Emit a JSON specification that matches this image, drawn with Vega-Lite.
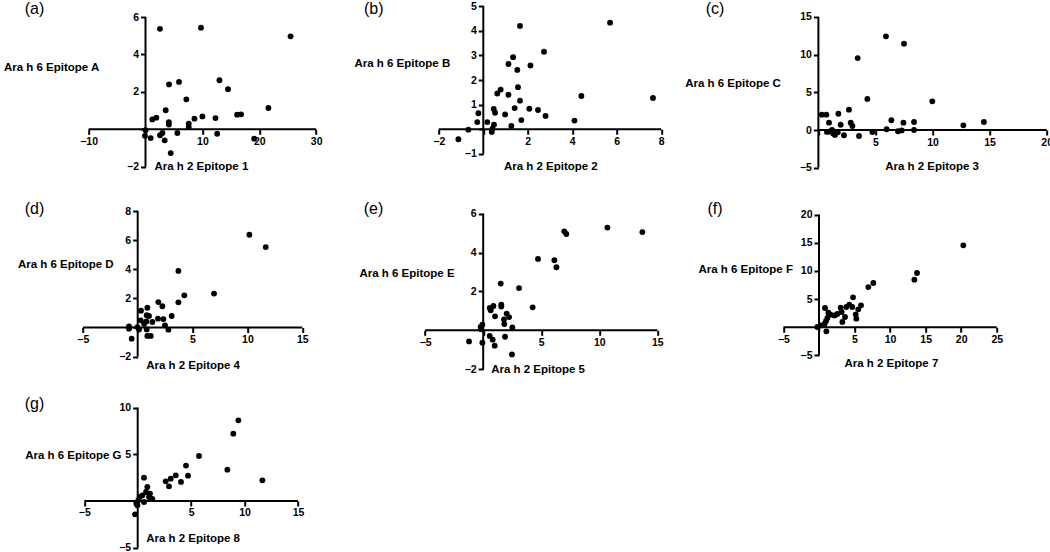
{
  "$schema": "https://vega.github.io/schema/vega-lite/v6.json",
  "padding": {"left": 2.7, "top": 0, "right": 0, "bottom": 0},
  "datasets": {
    "pts": [
      {"panel":"a","x":2.54,"y":5.37},{"panel":"a","x":9.75,"y":5.43},{"panel":"a","x":25.5,"y":4.97},{"panel":"a","x":4.14,"y":2.40},{"panel":"a","x":5.89,"y":2.53},{"panel":"a","x":13.0,"y":2.62},{"panel":"a","x":14.5,"y":2.14},{"panel":"a","x":7.18,"y":1.60},{"panel":"a","x":21.6,"y":1.14},{"panel":"a","x":3.55,"y":1.02},{"panel":"a","x":16.1,"y":0.78},{"panel":"a","x":16.8,"y":0.80},{"panel":"a","x":10.0,"y":0.69},{"panel":"a","x":12.3,"y":0.60},{"panel":"a","x":1.9,"y":0.62},{"panel":"a","x":1.2,"y":0.53},{"panel":"a","x":8.6,"y":0.57},{"panel":"a","x":4.1,"y":0.38},{"panel":"a","x":4.1,"y":0.25},{"panel":"a","x":7.6,"y":0.30},{"panel":"a","x":7.6,"y":0.12},{"panel":"a","x":0.0,"y":-0.05},{"panel":"a","x":-0.1,"y":-0.35},{"panel":"a","x":0.9,"y":-0.47},{"panel":"a","x":2.55,"y":-0.32},{"panel":"a","x":2.97,"y":-0.2},{"panel":"a","x":3.37,"y":-0.59},{"panel":"a","x":5.6,"y":-0.2},{"panel":"a","x":12.6,"y":-0.24},{"panel":"a","x":19.1,"y":-0.5},{"panel":"a","x":4.43,"y":-1.27},
      {"panel":"b","x":1.65,"y":4.2},{"panel":"b","x":5.70,"y":4.33},{"panel":"b","x":2.73,"y":3.15},{"panel":"b","x":1.34,"y":2.93},{"panel":"b","x":1.13,"y":2.65},{"panel":"b","x":2.12,"y":2.59},{"panel":"b","x":1.53,"y":2.41},{"panel":"b","x":1.56,"y":1.71},{"panel":"b","x":0.78,"y":1.61},{"panel":"b","x":0.63,"y":1.45},{"panel":"b","x":1.13,"y":1.40},{"panel":"b","x":1.65,"y":1.16},{"panel":"b","x":4.41,"y":1.35},{"panel":"b","x":7.63,"y":1.27},{"panel":"b","x":0.47,"y":0.82},{"panel":"b","x":0.53,"y":0.67},{"panel":"b","x":-0.22,"y":0.65},{"panel":"b","x":0.98,"y":0.60},{"panel":"b","x":1.41,"y":0.86},{"panel":"b","x":2.07,"y":0.83},{"panel":"b","x":2.46,"y":0.78},{"panel":"b","x":2.80,"y":0.54},{"panel":"b","x":1.71,"y":0.37},{"panel":"b","x":4.10,"y":0.35},{"panel":"b","x":-0.27,"y":0.29},{"panel":"b","x":0.18,"y":0.29},{"panel":"b","x":0.48,"y":0.18},{"panel":"b","x":1.26,"y":0.13},{"panel":"b","x":0.41,"y":0.02},{"panel":"b","x":0.38,"y":-0.11},{"panel":"b","x":-0.67,"y":-0.02},{"panel":"b","x":-1.12,"y":-0.41},
      {"panel":"c","x":5.92,"y":12.43},{"panel":"c","x":7.50,"y":11.46},{"panel":"c","x":3.44,"y":9.55},{"panel":"c","x":4.29,"y":4.12},{"panel":"c","x":9.98,"y":3.81},{"panel":"c","x":2.68,"y":2.70},{"panel":"c","x":0.3,"y":2.03},{"panel":"c","x":0.7,"y":2.03},{"panel":"c","x":1.75,"y":2.16},{"panel":"c","x":0.93,"y":0.97},{"panel":"c","x":1.95,"y":0.7},{"panel":"c","x":2.83,"y":0.97},{"panel":"c","x":2.98,"y":0.53},{"panel":"c","x":1.0,"y":-0.2},{"panel":"c","x":1.3,"y":-0.45},{"panel":"c","x":1.45,"y":-0.65},{"panel":"c","x":1.7,"y":-0.3},{"panel":"c","x":0.75,"y":-0.25},{"panel":"c","x":1.2,"y":0.0},{"panel":"c","x":2.24,"y":-0.7},{"panel":"c","x":3.56,"y":-0.8},{"panel":"c","x":4.73,"y":-0.27},{"panel":"c","x":5.98,"y":0.1},{"panel":"c","x":6.39,"y":1.29},{"panel":"c","x":6.97,"y":-0.17},{"panel":"c","x":7.3,"y":-0.05},{"panel":"c","x":7.45,"y":0.97},{"panel":"c","x":8.38,"y":1.06},{"panel":"c","x":8.38,"y":0.0},{"panel":"c","x":12.7,"y":0.62},{"panel":"c","x":14.5,"y":1.06},
      {"panel":"d","x":10.18,"y":6.38},{"panel":"d","x":11.67,"y":5.53},{"panel":"d","x":3.71,"y":3.89},{"panel":"d","x":6.96,"y":2.33},{"panel":"d","x":4.25,"y":2.21},{"panel":"d","x":3.71,"y":1.73},{"panel":"d","x":1.88,"y":1.75},{"panel":"d","x":2.25,"y":1.46},{"panel":"d","x":0.88,"y":1.36},{"panel":"d","x":0.30,"y":1.16},{"panel":"d","x":0.82,"y":0.84},{"panel":"d","x":1.03,"y":0.79},{"panel":"d","x":3.10,"y":0.79},{"panel":"d","x":1.85,"y":0.61},{"panel":"d","x":2.34,"y":0.58},{"panel":"d","x":0.27,"y":0.49},{"panel":"d","x":0.79,"y":0.42},{"panel":"d","x":1.34,"y":0.38},{"panel":"d","x":-0.79,"y":0.08},{"panel":"d","x":-0.79,"y":-0.08},{"panel":"d","x":-0.03,"y":0.03},{"panel":"d","x":0.12,"y":-0.13},{"panel":"d","x":0.82,"y":-0.13},{"panel":"d","x":2.49,"y":0.15},{"panel":"d","x":2.80,"y":-0.15},{"panel":"d","x":0.88,"y":-0.58},{"panel":"d","x":1.19,"y":-0.58},{"panel":"d","x":-0.55,"y":-0.77},{"panel":"d","x":0.58,"y":0.26},
      {"panel":"e","x":10.70,"y":5.28},{"panel":"e","x":13.71,"y":5.05},{"panel":"e","x":6.99,"y":5.09},{"panel":"e","x":7.16,"y":4.95},{"panel":"e","x":4.72,"y":3.67},{"panel":"e","x":6.13,"y":3.60},{"panel":"e","x":6.31,"y":3.24},{"panel":"e","x":1.51,"y":2.40},{"panel":"e","x":3.09,"y":2.17},{"panel":"e","x":4.26,"y":1.18},{"panel":"e","x":1.56,"y":1.32},{"panel":"e","x":1.56,"y":1.22},{"panel":"e","x":0.88,"y":1.25},{"panel":"e","x":0.56,"y":1.15},{"panel":"e","x":0.65,"y":1.03},{"panel":"e","x":1.02,"y":0.72},{"panel":"e","x":2.02,"y":0.86},{"panel":"e","x":2.23,"y":0.68},{"panel":"e","x":1.79,"y":0.56},{"panel":"e","x":1.82,"y":0.32},{"panel":"e","x":2.51,"y":0.15},{"panel":"e","x":-0.07,"y":0.29},{"panel":"e","x":-0.22,"y":0.17},{"panel":"e","x":0.56,"y":-0.29},{"panel":"e","x":0.82,"y":-0.48},{"panel":"e","x":0.99,"y":-0.79},{"panel":"e","x":1.88,"y":-0.33},{"panel":"e","x":-1.22,"y":-0.57},{"panel":"e","x":-0.07,"y":-0.64},{"panel":"e","x":2.48,"y":-1.24},{"panel":"e","x":-0.16,"y":0.05},
      {"panel":"f","x":20.3,"y":14.55},{"panel":"f","x":13.79,"y":9.63},{"panel":"f","x":13.42,"y":8.45},{"panel":"f","x":7.65,"y":7.86},{"panel":"f","x":6.94,"y":7.14},{"panel":"f","x":4.79,"y":5.31},{"panel":"f","x":5.91,"y":3.89},{"panel":"f","x":5.53,"y":3.18},{"panel":"f","x":4.27,"y":4.00},{"panel":"f","x":3.85,"y":3.59},{"panel":"f","x":3.05,"y":3.47},{"panel":"f","x":3.19,"y":2.70},{"panel":"f","x":2.58,"y":2.35},{"panel":"f","x":1.64,"y":2.23},{"panel":"f","x":0.85,"y":3.41},{"panel":"f","x":1.32,"y":2.58},{"panel":"f","x":5.16,"y":2.29},{"panel":"f","x":5.25,"y":1.52},{"panel":"f","x":3.29,"y":0.92},{"panel":"f","x":1.18,"y":1.64},{"panel":"f","x":0.99,"y":1.10},{"panel":"f","x":-0.23,"y":0.04},{"panel":"f","x":0.24,"y":0.33},{"panel":"f","x":0.80,"y":0.63},{"panel":"f","x":1.04,"y":-0.73},{"panel":"f","x":2.2,"y":2.1},{"panel":"f","x":3.66,"y":1.81},{"panel":"f","x":4.69,"y":3.59},
      {"panel":"g","x":9.42,"y":8.64},{"panel":"g","x":8.95,"y":7.21},{"panel":"g","x":5.74,"y":4.82},{"panel":"g","x":4.52,"y":3.79},{"panel":"g","x":8.39,"y":3.36},{"panel":"g","x":3.56,"y":2.75},{"panel":"g","x":4.71,"y":2.71},{"panel":"g","x":3.09,"y":2.39},{"panel":"g","x":2.62,"y":2.11},{"panel":"g","x":4.05,"y":2.04},{"panel":"g","x":2.93,"y":1.57},{"panel":"g","x":11.67,"y":2.21},{"panel":"g","x":0.59,"y":2.50},{"panel":"g","x":0.90,"y":1.50},{"panel":"g","x":0.78,"y":0.96},{"panel":"g","x":1.15,"y":0.79},{"panel":"g","x":0.44,"y":0.61},{"panel":"g","x":0.19,"y":0.43},{"panel":"g","x":1.37,"y":0.21},{"panel":"g","x":0.59,"y":-0.11},{"panel":"g","x":0.06,"y":0.07},{"panel":"g","x":-0.12,"y":-0.29},{"panel":"g","x":-0.03,"y":-0.46},{"panel":"g","x":-0.25,"y":-1.43},{"panel":"g","x":1.06,"y":0.43}
    ]
  },
  "columns": 3,
  "align": "each",
  "bounds": "flush",
  "spacing": {"row": 37, "column": 100},
  "concat": [
    {
      "width": 238, "height": 164,
      "title": {"text": "(a)", "dx": -56, "dy": 16},
      "layer": [
        {"data": {"values": [{}]}, "mark": {"type": "rule", "strokeWidth": 2, "color": "black"}, "encoding": {"x": {"datum": -10}, "x2": {"datum": 30}, "y": {"datum": 0}}},
        {"data": {"values": [{}]}, "mark": {"type": "rule", "strokeWidth": 2, "color": "black"}, "encoding": {"x": {"datum": 0}, "y": {"datum": -2}, "y2": {"datum": 6}}},
        {"data": {"name": "pts"}, "transform": [{"filter": "datum.panel === 'a'"}],
         "mark": {"type": "circle", "size": 34, "color": "black", "opacity": 1},
         "encoding": {
           "x": {"field": "x", "type": "quantitative", "scale": {"domain": [-11.39, 30.44], "nice": false, "zero": false},
                 "axis": {"values": [-10, 0, 10, 20, 30], "format": "d", "tickCount": 50, "labelOverlap": false, "offset": -39.7, "title": "Ara h 2 Epitope 1", "titleX": 73.3, "titleY": 37.4}},
           "y": {"field": "y", "type": "quantitative", "scale": {"domain": [-2.122, 6.643], "nice": false, "zero": false},
                 "axis": {"values": [-2, 0, 2, 4, 6], "format": "d", "tickCount": 50, "labelOverlap": false, "offset": -64.8, "title": "Ara h 6 Epitope A", "titleX": -142.1, "titleY": 62}}
         }}
      ]
    },
    {
      "width": 260, "height": 164,
      "title": {"text": "(b)", "dx": -54.7, "dy": 19.6},
      "layer": [
        {"data": {"values": [{}]}, "mark": {"type": "rule", "strokeWidth": 2, "color": "black"}, "encoding": {"x": {"datum": -2}, "x2": {"datum": 8}, "y": {"datum": 0}}},
        {"data": {"values": [{}]}, "mark": {"type": "rule", "strokeWidth": 2, "color": "black"}, "encoding": {"x": {"datum": 0}, "y": {"datum": -1}, "y2": {"datum": 5}}},
        {"data": {"name": "pts"}, "transform": [{"filter": "datum.panel === 'b'"}],
         "mark": {"type": "circle", "size": 34, "color": "black", "opacity": 1},
         "encoding": {
           "x": {"field": "x", "type": "quantitative", "scale": {"domain": [-2.905, 8.786], "nice": false, "zero": false},
                 "axis": {"values": [-2, 0, 2, 4, 6, 8], "format": "d", "tickCount": 50, "labelOverlap": false, "offset": -39.8, "title": "Ara h 2 Epitope 2", "titleX": 84.7, "titleY": 36.8}},
           "y": {"field": "y", "type": "quantitative", "scale": {"domain": [-1.618, 5.049], "nice": false, "zero": false},
                 "axis": {"values": [-1, 0, 1, 2, 3, 4, 5], "format": "d", "tickCount": 50, "labelOverlap": false, "offset": -64.6, "title": "Ara h 6 Epitope B", "titleX": -129.3, "titleY": 58.7}}
         }}
      ]
    },
    {
      "width": 270, "height": 164,
      "title": {"text": "(c)", "dx": -73, "dy": 15.5},
      "layer": [
        {"data": {"values": [{}]}, "mark": {"type": "rule", "strokeWidth": 2, "color": "black"}, "encoding": {"x": {"datum": 0}, "x2": {"datum": 20}, "y": {"datum": 0}}},
        {"data": {"values": [{}]}, "mark": {"type": "rule", "strokeWidth": 2, "color": "black"}, "encoding": {"x": {"datum": 0}, "y": {"datum": -5}, "y2": {"datum": 15}}},
        {"data": {"name": "pts"}, "transform": [{"filter": "datum.panel === 'c'"}],
         "mark": {"type": "circle", "size": 34, "color": "black", "opacity": 1},
         "encoding": {
           "x": {"field": "x", "type": "quantitative", "scale": {"domain": [-3.478, 20.175], "nice": false, "zero": false},
                 "axis": {"values": [0, 5, 10, 15, 20], "format": "d", "tickCount": 50, "labelOverlap": false, "offset": -39, "title": "Ara h 2 Epitope 3", "titleX": 106, "titleY": 36}},
           "y": {"field": "y", "type": "quantitative", "scale": {"domain": [-5.176, 16.59], "nice": false, "zero": false},
                 "axis": {"values": [-5, 0, 5, 10, 15], "format": "d", "tickCount": 50, "labelOverlap": false, "offset": -39.7, "labelExpr": "datum.label", "title": "Ara h 6 Epitope C", "titleX": -133.7, "titleY": 78}}
         }}
      ]
    },
    {
      "width": 238, "height": 164,
      "title": {"text": "(d)", "dx": -56, "dy": 15},
      "layer": [
        {"data": {"values": [{}]}, "mark": {"type": "rule", "strokeWidth": 2, "color": "black"}, "encoding": {"x": {"datum": -5}, "x2": {"datum": 15}, "y": {"datum": 0}}},
        {"data": {"values": [{}]}, "mark": {"type": "rule", "strokeWidth": 2, "color": "black"}, "encoding": {"x": {"datum": 0}, "y": {"datum": -2}, "y2": {"datum": 8}}},
        {"data": {"name": "pts"}, "transform": [{"filter": "datum.panel === 'd'"}],
         "mark": {"type": "circle", "size": 34, "color": "black", "opacity": 1},
         "encoding": {
           "x": {"field": "x", "type": "quantitative", "scale": {"domain": [-5.196, 16.50], "nice": false, "zero": false},
                 "axis": {"values": [-5, 0, 5, 10, 15], "format": "d", "tickCount": 50, "labelOverlap": false, "offset": -42.5, "title": "Ara h 2 Epitope 4", "titleX": 65, "titleY": 37.8}},
           "y": {"field": "y", "type": "quantitative", "scale": {"domain": [-2.923, 8.356], "nice": false, "zero": false},
                 "axis": {"values": [-2, 0, 2, 4, 6, 8], "format": "d", "tickCount": 50, "labelOverlap": false, "offset": -57, "title": "Ara h 6 Epitope D", "titleX": -120.3, "titleY": 58.7}}
         }}
      ]
    },
    {
      "width": 260, "height": 164,
      "title": {"text": "(e)", "dx": -55, "dy": 15},
      "layer": [
        {"data": {"values": [{}]}, "mark": {"type": "rule", "strokeWidth": 2, "color": "black"}, "encoding": {"x": {"datum": -5}, "x2": {"datum": 15}, "y": {"datum": 0}}},
        {"data": {"values": [{}]}, "mark": {"type": "rule", "strokeWidth": 2, "color": "black"}, "encoding": {"x": {"datum": 0}, "y": {"datum": -2}, "y2": {"datum": 6}}},
        {"data": {"name": "pts"}, "transform": [{"filter": "datum.panel === 'e'"}],
         "mark": {"type": "circle", "size": 34, "color": "black", "opacity": 1},
         "encoding": {
           "x": {"field": "x", "type": "quantitative", "scale": {"domain": [-5.556, 16.84], "nice": false, "zero": false},
                 "axis": {"values": [-5, 0, 5, 10, 15], "format": "d", "tickCount": 50, "labelOverlap": false, "offset": -39.7, "title": "Ara h 2 Epitope 5", "titleX": 72, "titleY": 39.4}},
           "y": {"field": "y", "type": "quantitative", "scale": {"domain": [-2.041, 6.391], "nice": false, "zero": false},
                 "axis": {"values": [-2, 0, 2, 4, 6], "format": "d", "tickCount": 50, "labelOverlap": false, "offset": -64.5, "title": "Ara h 6 Epitope E", "titleX": -124.2, "titleY": 67}}
         }}
      ]
    },
    {
      "width": 270, "height": 164,
      "title": {"text": "(f)", "dx": -71.3, "dy": 15},
      "layer": [
        {"data": {"values": [{}]}, "mark": {"type": "rule", "strokeWidth": 2, "color": "black"}, "encoding": {"x": {"datum": -5}, "x2": {"datum": 25}, "y": {"datum": 0}}},
        {"data": {"values": [{}]}, "mark": {"type": "rule", "strokeWidth": 2, "color": "black"}, "encoding": {"x": {"datum": 0}, "y": {"datum": -5}, "y2": {"datum": 20}}},
        {"data": {"name": "pts"}, "transform": [{"filter": "datum.panel === 'f'"}],
         "mark": {"type": "circle", "size": 34, "color": "black", "opacity": 1},
         "encoding": {
           "x": {"field": "x", "type": "quantitative", "scale": {"domain": [-5.668, 32.31], "nice": false, "zero": false},
                 "axis": {"values": [-5, 0, 5, 10, 15, 20, 25], "format": "d", "tickCount": 50, "labelOverlap": false, "offset": -42.8, "title": "Ara h 2 Epitope 7", "titleX": 65.3, "titleY": 36.5}},
           "y": {"field": "y", "type": "quantitative", "scale": {"domain": [-7.61, 21.55], "nice": false, "zero": false},
                 "axis": {"values": [-5, 0, 5, 10, 15, 20], "format": "d", "tickCount": 50, "labelOverlap": false, "offset": -40.3, "title": "Ara h 6 Epitope F", "titleX": -121, "titleY": 63.3}}
         }}
      ]
    },
    {
      "width": 238, "height": 142,
      "title": {"text": "(g)", "dx": -56, "dy": 13.6},
      "layer": [
        {"data": {"values": [{}]}, "mark": {"type": "rule", "strokeWidth": 2, "color": "black"}, "encoding": {"x": {"datum": -5}, "x2": {"datum": 15}, "y": {"datum": 0}}},
        {"data": {"values": [{}]}, "mark": {"type": "rule", "strokeWidth": 2, "color": "black"}, "encoding": {"x": {"datum": 0}, "y": {"datum": -5}, "y2": {"datum": 10}}},
        {"data": {"name": "pts"}, "transform": [{"filter": "datum.panel === 'g'"}],
         "mark": {"type": "circle", "size": 34, "color": "black", "opacity": 1},
         "encoding": {
           "x": {"field": "x", "type": "quantitative", "scale": {"domain": [-5.335, 16.94], "nice": false, "zero": false},
                 "axis": {"values": [-5, 0, 5, 10, 15], "format": "d", "tickCount": 50, "labelOverlap": false, "offset": -48, "title": "Ara h 2 Epitope 8", "titleX": 65, "titleY": 37.7}},
           "y": {"field": "y", "type": "quantitative", "scale": {"domain": [-5.143, 10.07], "nice": false, "zero": false},
                 "axis": {"values": [-5, 0, 5, 10], "format": "d", "tickCount": 50, "labelOverlap": false, "offset": -57, "title": "Ara h 6 Epitope G", "titleX": -113, "titleY": 49}}
         }}
      ]
    }
  ],
  "config": {
    "view": {"stroke": null},
    "background": "white",
    "axis": {
      "domain": false, "grid": false,
      "ticks": true, "tickSize": 5, "tickWidth": 2, "tickColor": "black",
      "labelFont": "Liberation Sans", "labelFontWeight": "bold", "labelFontSize": 10.5, "labelColor": "black",
      "labelPadding": 2, "labelFlush": false, "labelOverlap": false, "labelBound": false,
      "labelExpr": "datum.value === 0 ? '' : datum.label",
      "titleFont": "Liberation Sans", "titleFontWeight": "bold", "titleFontSize": 11.5, "titleColor": "black",
      "titleAngle": 0, "titleAlign": "left", "titleBaseline": "middle"
    },
    "title": {"font": "Liberation Sans", "fontSize": 16, "fontWeight": "normal", "color": "black", "anchor": "start", "frame": "group", "offset": 0, "baseline": "top"}
  }
}
